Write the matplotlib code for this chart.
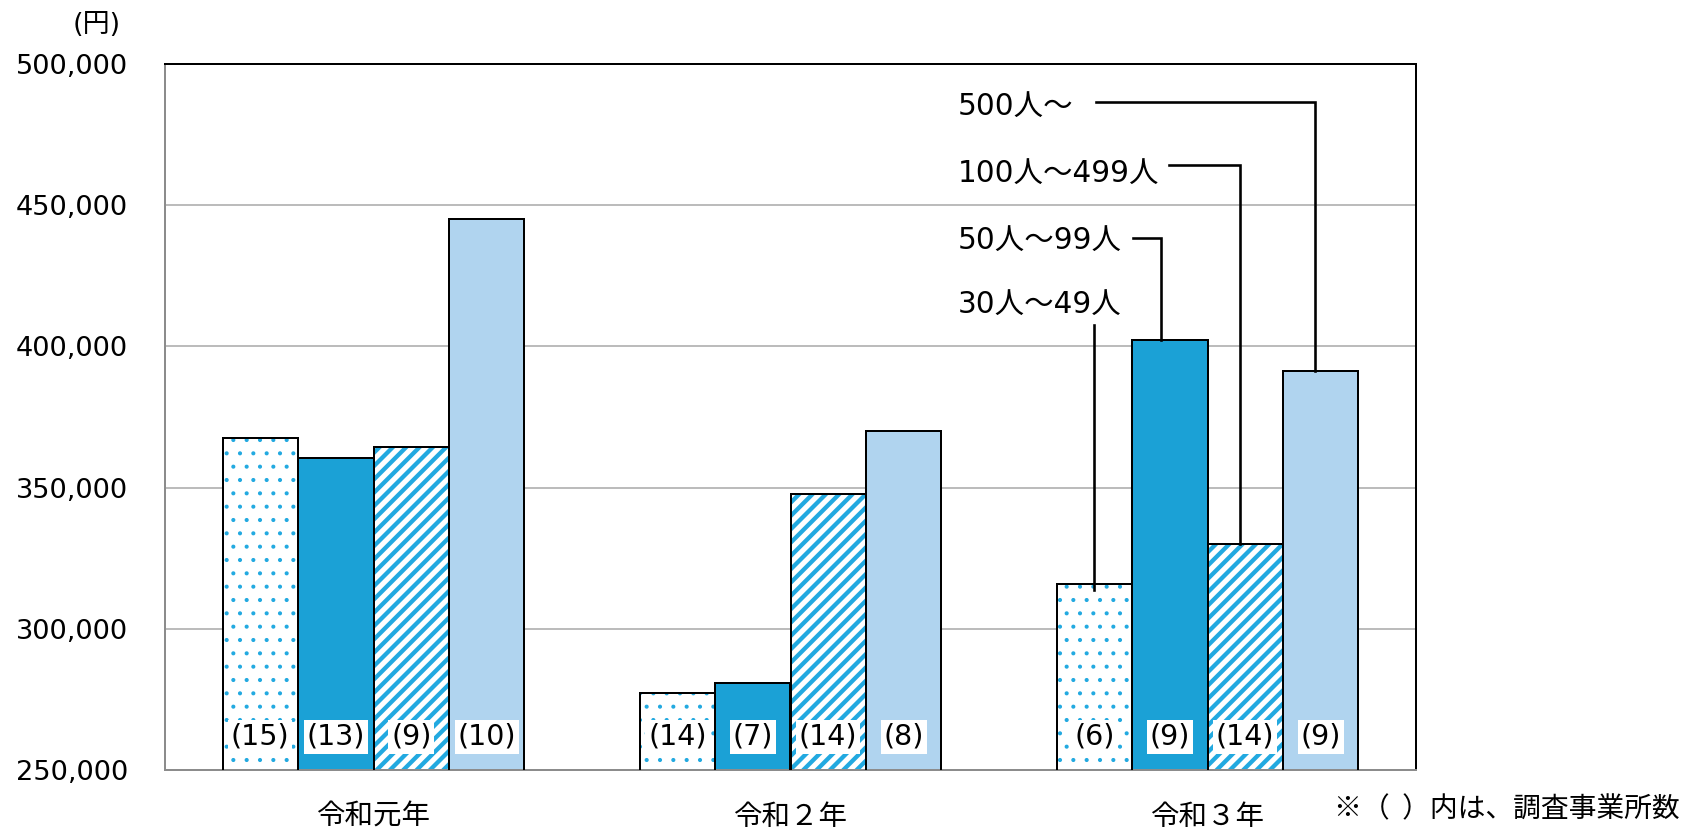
import numpy as np
import matplotlib.pyplot as plt

DPI = 80


def px(v):
    # pixel size -> points at this dpi
    return v * 72 / DPI


plt.rcParams['font.family'] = ['DejaVu Sans', 'Noto Sans CJK JP']
CJK = 'Noto Sans CJK JP'

years = ['令和元年', '令和２年', '令和３年']
sizes = ['30人〜49人', '50人〜99人', '100人〜499人', '500人〜']

# 平均賃金（円）
wage_30_49 = [367700, 277200, 315900]
wage_50_99 = [360600, 280800, 402200]
wage_100_499 = [364500, 347800, 330000]
wage_500 = [445100, 369900, 391400]

# 調査事業所数
n_30_49 = [15, 14, 6]
n_50_99 = [13, 7, 9]
n_100_499 = [9, 14, 14]
n_500 = [10, 8, 9]

series = [wage_30_49, wage_50_99, wage_100_499, wage_500]
counts = [n_30_49, n_50_99, n_100_499, n_500]

DOT_BLUE = '#22A9E0'
SOLID_BLUE = '#1BA1D6'
LIGHT_BLUE = '#B0D4EF'
styles = [
    dict(fill='white', hatch='.', hatch_color=DOT_BLUE, hatch_lw=1.4),
    dict(fill=SOLID_BLUE),
    dict(fill='white', hatch='//', hatch_color=DOT_BLUE, hatch_lw=4.3),
    dict(fill=LIGHT_BLUE),
]

fig = plt.figure(figsize=(1691 / DPI, 830 / DPI), dpi=DPI)
ax = fig.add_axes([165 / 1691, 60 / 830, (1416 - 165) / 1691, (770 - 64) / 830])

x = np.arange(len(years))
w = 0.181
offsets = [-1.5, -0.5, 0.5, 1.5]

for vals, st, off in zip(series, styles, offsets):
    xs = x + off * w
    if 'hatch' in st:
        with plt.rc_context({'hatch.linewidth': px(st['hatch_lw'])}):
            ax.bar(xs, vals, w, color=st['fill'], edgecolor=st['hatch_color'],
                   hatch=st['hatch'], linewidth=0, zorder=2)
    else:
        ax.bar(xs, vals, w, color=st['fill'], linewidth=0, zorder=2)
    ax.bar(xs, vals, w, fill=False, edgecolor='black', linewidth=px(2), zorder=3)

# 事業所数のラベル（棒の下部）
LABEL_Y = 261700
for cnt, off in zip(counts, offsets):
    for xi, n in zip(x, cnt):
        ax.text(xi + off * w, LABEL_Y, f'({n})', ha='center', va='center',
                fontsize=px(28.5), zorder=6,
                bbox=dict(boxstyle='square,pad=0.1', fc='white', ec='none'))

# 令和３年の凡例代わりの引き出し線
g = 2
label_x = 1.402
label_y = [415000, 437700, 461300, 485100]
elbow_y = [None, 438400, 464200, 486600]
elbow_x0 = [None, 1.821, 1.908, 1.733]
line_dx = [0.0, -0.021, -0.013, -0.013]
top_30 = 407600
for i, (name, vals, off) in enumerate(zip(sizes, series, offsets)):
    ax.text(label_x, label_y[i], name, ha='left', va='center', fontsize=px(29.5), zorder=6)
    xc = g + off * w + line_dx[i]
    if elbow_y[i] is None:
        ax.plot([xc, xc], [top_30, vals[g] - 2000], color='black', lw=px(2.6), zorder=5)
    else:
        ax.plot([elbow_x0[i], xc, xc], [elbow_y[i], elbow_y[i], vals[g]],
                color='black', lw=px(2.6), zorder=5, solid_joinstyle='miter')

ax.set_xlim(-0.5, 2.5)
ax.set_ylim(250000, 500000)
ax.set_yticks(np.arange(250000, 500001, 50000))
ax.yaxis.set_major_formatter(lambda v, p: f'{int(v):,}')
ax.set_xticks(x)
ax.set_xticklabels(years, family=CJK)
ax.tick_params(axis='y', length=0, pad=px(37), labelsize=px(27.3))
ax.tick_params(axis='x', length=0, pad=px(32), labelsize=px(28.5))

ax.yaxis.grid(True, color='#a6a6a6', lw=px(1.5))
ax.set_axisbelow(True)
for side in ['left', 'bottom']:
    ax.spines[side].set_color('#8c8c8c')
    ax.spines[side].set_linewidth(px(2))
for side in ['top', 'right']:
    ax.spines[side].set_color('black')
    ax.spines[side].set_linewidth(px(2))

fig.text(97 / 1691, 1 - 25 / 830, '(円)', ha='center', va='center', fontsize=px(27))
fig.text(1680 / 1691, 1 - 809 / 830, '※（  ）内は、調査事業所数', ha='right', va='center',
         fontsize=px(27.8), family=CJK)

fig.savefig('out.png', dpi=DPI)
